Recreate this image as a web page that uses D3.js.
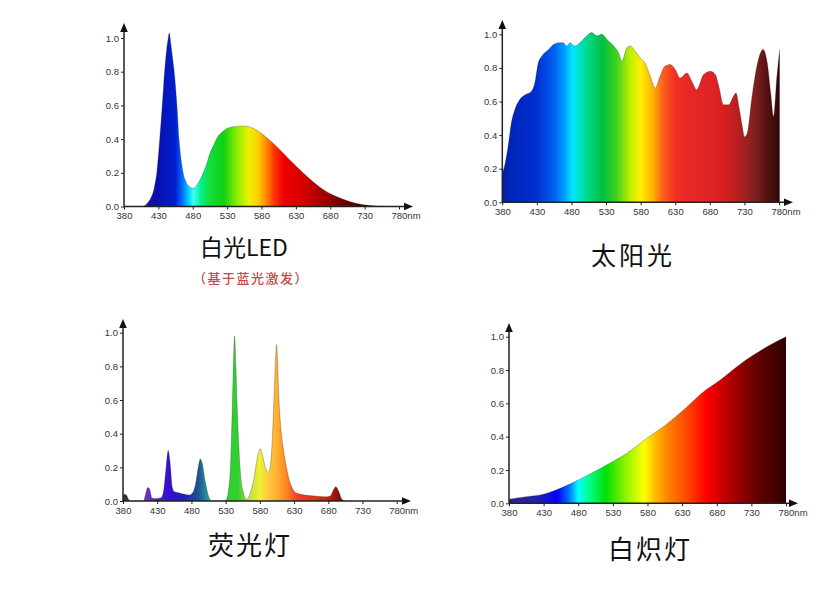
<!DOCTYPE html>
<html><head><meta charset="utf-8">
<script src="https://cdn.jsdelivr.net/npm/d3@7/dist/d3.min.js"></script>
<style>
html,body{margin:0;padding:0;background:#fff;}
svg{display:block;}
.tick text{font-family:"Liberation Sans",Arial,sans-serif;font-size:9.5px;fill:#333;}
.tick line{stroke:#222;stroke-width:1;}
.title{font-family:"Noto Sans CJK SC",sans-serif;fill:#111;}
</style>
</head><body>
<script>
// ---------- data ----------
const xTicks = [380,430,480,530,580,630,680,730,780];
const yTicks = [0,0.2,0.4,0.6,0.8,1.0];

// 白光LED (blue-pumped)
const ledNm  = [405,410,414,419,424,428,432,436,439,442,444,446,448,450,453,457,460,463,466,471,476,481,488,495,500,505,510,515,525,539,553,568,583,597,612,626,641,655,670,684,699,713,728,748,765];
const ledVal = [0,0.005,0.02,0.05,0.11,0.21,0.4,0.62,0.8,0.93,0.99,1.03,0.97,0.9,0.8,0.6,0.4,0.28,0.2,0.14,0.115,0.108,0.14,0.197,0.25,0.315,0.36,0.405,0.45,0.474,0.478,0.464,0.424,0.375,0.315,0.256,0.197,0.147,0.10,0.068,0.043,0.023,0.011,0.003,0];

// 太阳光
const sunNm  = [380,384,389,393,398,405,413,422,427,432,437,447,454,463,468,473,478,485,492,502,509,517,524,531,541,548,553,560,565,572,579,586,594,601,608,615,623,630,637,647,654,661,671,681,688,693,700,707,714,718,722,727,730,734,741,748,757,763,768,772,777,781];
const sunVal = [0.17,0.23,0.35,0.47,0.55,0.61,0.64,0.66,0.71,0.83,0.87,0.91,0.94,0.95,0.95,0.93,0.95,0.93,0.95,0.99,1.01,0.99,1.0,0.97,0.93,0.89,0.84,0.92,0.93,0.90,0.86,0.83,0.75,0.68,0.75,0.81,0.82,0.79,0.74,0.77,0.72,0.67,0.76,0.78,0.76,0.69,0.58,0.58,0.63,0.65,0.57,0.45,0.39,0.41,0.63,0.81,0.91,0.83,0.65,0.51,0.75,0.91];

// 荧光灯
const fluNm  = [380,382,385,388,391,410,413,416,419,422,426,436,440,443,446,449,452,455,460,470,477,482,486,490,493,496,500,505,510,528,531,534,537,539,541,543,545,547,549,552,556,560,563,567,572,577,581,584,588,592,595,598,601,603,604.5,606,608,611,614,618,622,627,632,640,660,675,683,688,691,695,700,705];
const fluVal = [0.03,0.04,0.035,0.01,0,0,0.04,0.08,0.07,0.02,0.015,0.02,0.08,0.2,0.3,0.22,0.08,0.055,0.05,0.04,0.035,0.05,0.1,0.2,0.25,0.22,0.12,0.03,0,0,0.01,0.06,0.2,0.45,0.75,0.98,0.8,0.55,0.35,0.15,0.05,0.01,0.02,0.06,0.15,0.27,0.31,0.27,0.2,0.17,0.2,0.35,0.65,0.85,0.93,0.82,0.6,0.42,0.32,0.22,0.14,0.08,0.05,0.04,0.03,0.025,0.03,0.07,0.085,0.06,0.01,0];

// 白炽灯
const incNm  = [380,405,430,454,480,521,550,579,612,632,661,685,709,733,757,780];
const incVal = [0.025,0.04,0.055,0.09,0.14,0.23,0.30,0.39,0.49,0.56,0.67,0.74,0.82,0.89,0.95,1.0];

// ---------- styles ----------
const ledStops = [[380,"#1a1a90"],[430,"#0a10b0"],[455,"#0020d0"],[465,"#0070ff"],[474,"#00d0ff"],[481,"#40fff0"],[492,"#00f090"],[503,"#10e040"],[525,"#10d010"],[545,"#90ee00"],[562,"#f0f000"],[575,"#ffd000"],[586,"#ff9000"],[598,"#ff3800"],[612,"#f00000"],[645,"#d00000"],[670,"#a00000"],[700,"#700000"],[735,"#400000"],[780,"#300000"]];
const sunStops = [[380,"#0020b0"],[430,"#0030d0"],[455,"#0060f0"],[470,"#00a0ff"],[482,"#00e8ff"],[495,"#00e0b0"],[510,"#00d070"],[525,"#00c040"],[545,"#40d020"],[565,"#c0f000"],[580,"#ffee00"],[598,"#ffb000"],[612,"#ff6020"],[630,"#f03020"],[650,"#e82828"],[700,"#d82020"],[720,"#b82020"],[745,"#802020"],[765,"#501010"],[780,"#300808"]];
const fluStops = [[380,"#303030"],[405,"#504080"],[416,"#7030c0"],[440,"#4010d0"],[450,"#3010d0"],[470,"#2020c0"],[490,"#205090"],[505,"#20a0a0"],[522,"#40c080"],[535,"#30d030"],[548,"#30d030"],[565,"#c0e040"],[580,"#f0f030"],[590,"#ffd040"],[605,"#ffb030"],[620,"#ff8020"],[635,"#f04020"],[660,"#e03020"],[680,"#c02010"],[695,"#801010"],[720,"#401010"],[780,"#300808"]];
const incStops = [[380,"#30208a"],[420,"#2020b0"],[450,"#0000ff"],[468,"#0080ff"],[480,"#00ffff"],[495,"#00ff90"],[520,"#00e000"],[545,"#80f000"],[575,"#ffff00"],[590,"#ffc000"],[610,"#ff8000"],[640,"#ff4000"],[665,"#ff0000"],[700,"#b00000"],[740,"#600000"],[780,"#300000"]];

const W = 823, H = 593;
const svg = d3.select("body").append("svg").attr("width", W).attr("height", H);
const defs = svg.append("defs");

const panels = [
  {id:"led", nm:ledNm, val:ledVal, stops:ledStops, x0:124, x1:399, y0:206.5, y1:38, yTop:23, xEnd:413},
  {id:"sun", nm:sunNm, val:sunVal, stops:sunStops, x0:502.3, x1:779, y0:202.3, y1:34.3, yTop:20, xEnd:793},
  {id:"flu", nm:fluNm, val:fluVal, stops:fluStops, x0:123, x1:396.7, y0:501, y1:332.7, yTop:319, xEnd:411},
  {id:"inc", nm:incNm, val:incVal, stops:incStops, x0:509, x1:786, y0:503.3, y1:336.7, yTop:323, xEnd:798}
];

panels.forEach(p => {
  const x = d3.scaleLinear().domain([380,780]).range([p.x0, p.x1]);
  const y = d3.scaleLinear().domain([0,1]).range([p.y0, p.y1]);
  const g = svg.append("g");

  const grad = defs.append("linearGradient").attr("id","g-"+p.id)
    .attr("gradientUnits","userSpaceOnUse")
    .attr("x1", x(380)).attr("x2", x(780)).attr("y1",0).attr("y2",0);
  p.stops.forEach(s => grad.append("stop").attr("offset", (s[0]-380)/400).attr("stop-color", s[1]));

  const pts = p.nm.map((n,i) => [n, p.val[i]]);
  const area = d3.area().x(d => x(d[0])).y0(y(0)).y1(d => y(d[1])).curve(d3.curveMonotoneX);
  const line = d3.line().x(d => x(d[0])).y(d => y(d[1])).curve(d3.curveMonotoneX);
  g.append("path").datum(pts).attr("d", area).attr("fill", "url(#g-"+p.id+")");
  g.append("path").datum(pts).attr("d", line).attr("fill","none")
    .attr("stroke","rgba(20,10,10,0.25)").attr("stroke-width",1);

  // y axis
  const ya = g.append("g").attr("transform", `translate(${p.x0},0)`)
    .call(d3.axisLeft(y).tickValues(yTicks).tickFormat(d3.format(".1f")).tickSize(3).tickPadding(2));
  ya.select(".domain").remove();
  // x axis
  const xa = g.append("g").attr("transform", `translate(0,${p.y0})`)
    .call(d3.axisBottom(x).tickValues(xTicks).tickFormat(d => d===780 ? "780nm" : d).tickSize(3).tickPadding(3));
  xa.select(".domain").remove();
  xa.selectAll(".tick text").filter(d => d===780).attr("text-anchor","start").attr("dx","-8");

  // axis lines with arrows
  g.append("line").attr("x1",p.x0).attr("x2",p.x0).attr("y1",p.y0).attr("y2",p.yTop+6)
    .attr("stroke","#222").attr("stroke-width",1.5);
  g.append("line").attr("x1",p.x0).attr("x2",p.xEnd-6).attr("y1",p.y0).attr("y2",p.y0)
    .attr("stroke","#222").attr("stroke-width",1.5);
  g.append("path").attr("d",`M${p.x0},${p.yTop} L${p.x0-3.8},${p.yTop+9} L${p.x0+3.8},${p.yTop+9} Z`).attr("fill","#111");
  g.append("path").attr("d",`M${p.xEnd},${p.y0} L${p.xEnd-9},${p.y0-3.8} L${p.xEnd-9},${p.y0+3.8} Z`).attr("fill","#111");
});

// titles
svg.append("text").attr("class","title").attr("x",244).attr("y",256).attr("text-anchor","middle")
  .attr("font-size",23).text("白光LED");
svg.append("text").attr("class","title").attr("x",251).attr("y",283).attr("text-anchor","middle")
  .attr("font-size",13).attr("font-weight",500).attr("letter-spacing",1.5).style("fill","#c84848").text("（基于蓝光激发）");
svg.append("text").attr("class","title").attr("x",633).attr("y",265).attr("text-anchor","middle")
  .attr("font-size",25).attr("letter-spacing",3).text("太阳光");
svg.append("text").attr("class","title").attr("x",250).attr("y",555).attr("text-anchor","middle")
  .attr("font-size",26).attr("letter-spacing",2).text("荧光灯");
svg.append("text").attr("class","title").attr("x",650).attr("y",559).attr("text-anchor","middle")
  .attr("font-size",26).attr("letter-spacing",2).text("白炽灯");
</script>
</body></html>
